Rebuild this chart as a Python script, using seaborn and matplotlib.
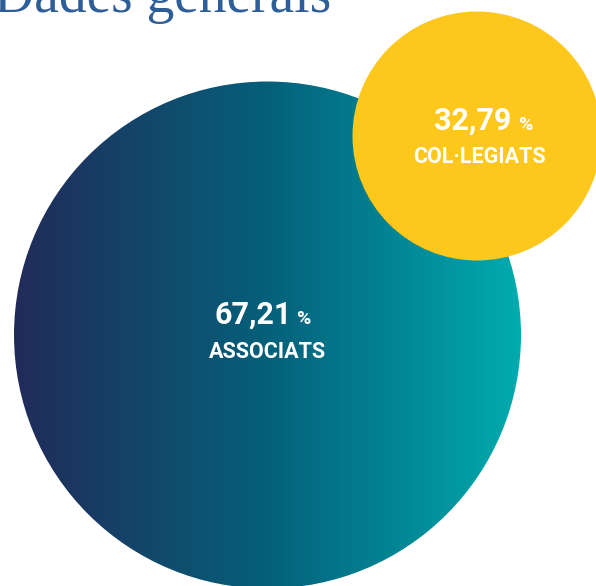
import matplotlib
matplotlib.use("Agg")
import matplotlib.pyplot as plt
import numpy as np
import seaborn as sns
from matplotlib.colors import LinearSegmentedColormap
from matplotlib.patches import Circle

labels = ["ASSOCIATS", "COL·LEGIATS"]
values = [67.21, 32.79]
title = "Dades generals"

sns.set_theme(style="white")
plt.rcParams["font.family"] = ["Roboto", "DejaVu Sans"]

W, H = 596, 586
fig = plt.figure(figsize=(W / 100, H / 100), dpi=100)
ax = fig.add_axes([0, 0, 1, 1])
ax.set_xlim(0, W)
ax.set_ylim(H, 0)
ax.axis("off")

# big circle with horizontal gradient
big_c, big_r = (267.5, 335), 253.5
grad = LinearSegmentedColormap.from_list("g", ["#212b59", "#05607a", "#00abae"])
g = np.linspace(0, 1, 256).reshape(1, -1)
im = ax.imshow(g, cmap=grad, aspect="auto",
               extent=(big_c[0] - big_r, big_c[0] + big_r, big_c[1] + big_r, big_c[1] - big_r),
               zorder=1)
clip = Circle(big_c, big_r, transform=ax.transData, facecolor="none", edgecolor="none")
ax.add_patch(clip)
im.set_clip_path(clip)

# small yellow circle
small_c, small_r = (477, 136), 124.5
ax.add_patch(Circle(small_c, small_r, facecolor="#fdc71c", edgecolor="none", zorder=2))


def fmt(v):
    return f"{v:.2f}".replace(".", ",")


def label(c, dx_num, dx_pct, dx_lab, y_num, y_lab, value, text):
    ax.text(c[0] + dx_num, y_num, fmt(value), ha="right", va="baseline",
            color="white", fontsize=22, fontweight="bold", zorder=3)
    ax.text(c[0] + dx_pct, y_num, "%", ha="left", va="baseline",
            color="white", fontsize=14, fontweight="bold", zorder=3)
    ax.text(c[0] + dx_lab, y_lab, text, ha="center", va="baseline",
            color="white", fontsize=15.5, fontweight="bold", zorder=3)


label(big_c, 24, 29, 0, 324, 358, values[0], labels[0])
label(small_c, 34, 41, 2.5, 130, 163, values[1], labels[1])

ax.text(-6, 12, title, ha="left", va="baseline", color="#2e5e98",
        fontsize=40, family=["Liberation Serif", "DejaVu Serif"], zorder=3)

fig.savefig("out.png", dpi=100)
